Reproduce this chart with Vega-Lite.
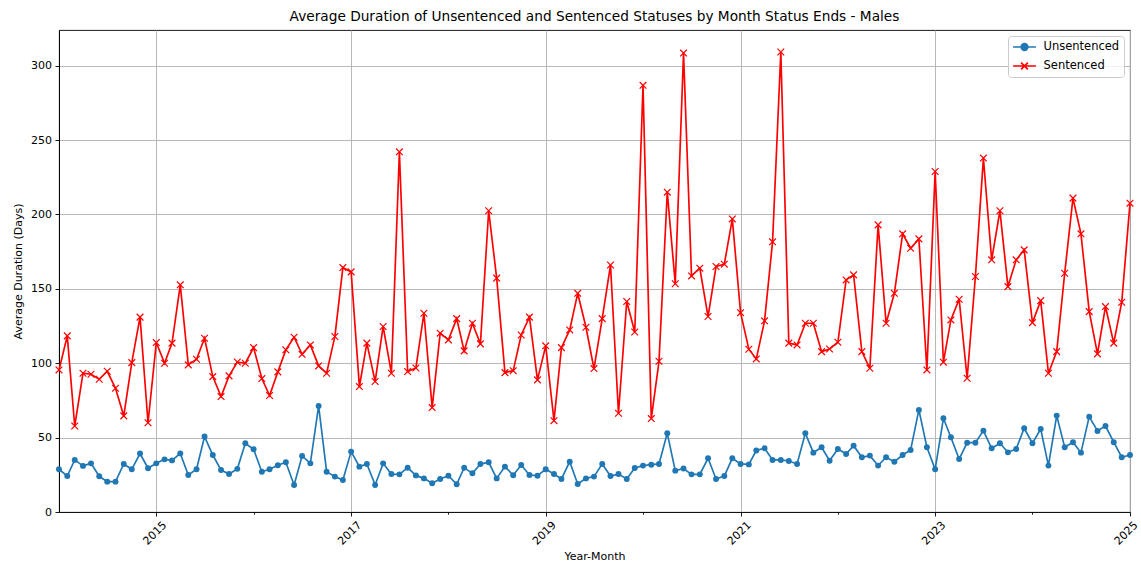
{
  "$schema": "https://vega.github.io/schema/vega-lite/v6.json",
  "width": 1071,
  "height": 482,
  "autosize": {"type": "none"},
  "padding": {"left": 59, "top": 30, "right": 11, "bottom": 51},
  "background": "white",
  "title": {"text": "Average Duration of Unsentenced and Sentenced Statuses by Month Status Ends - Males", "fontSize": 13.7, "font": "DejaVu Sans", "fontWeight": "normal", "color": "black", "offset": 6, "anchor": "middle"},
  "data": {
    "format": {"parse": {"m": "utc:'%Y-%m'"}},
    "values": [
      {"m": "2014-01", "Unsentenced": 28.7, "Sentenced": 95.5},
      {"m": "2014-02", "Unsentenced": 24.2, "Sentenced": 118.4},
      {"m": "2014-03", "Unsentenced": 35.0, "Sentenced": 57.8},
      {"m": "2014-04", "Unsentenced": 31.0, "Sentenced": 93.3},
      {"m": "2014-05", "Unsentenced": 32.7, "Sentenced": 92.6},
      {"m": "2014-06", "Unsentenced": 24.0, "Sentenced": 89.2},
      {"m": "2014-07", "Unsentenced": 20.4, "Sentenced": 94.6},
      {"m": "2014-08", "Unsentenced": 20.4, "Sentenced": 83.2},
      {"m": "2014-09", "Unsentenced": 32.3, "Sentenced": 64.6},
      {"m": "2014-10", "Unsentenced": 28.7, "Sentenced": 100.4},
      {"m": "2014-11", "Unsentenced": 39.3, "Sentenced": 131.0},
      {"m": "2014-12", "Unsentenced": 29.4, "Sentenced": 60.0},
      {"m": "2015-01", "Unsentenced": 32.7, "Sentenced": 113.9},
      {"m": "2015-02", "Unsentenced": 35.4, "Sentenced": 100.0},
      {"m": "2015-03", "Unsentenced": 34.7, "Sentenced": 113.5},
      {"m": "2015-04", "Unsentenced": 39.4, "Sentenced": 152.7},
      {"m": "2015-05", "Unsentenced": 24.9, "Sentenced": 98.9},
      {"m": "2015-06", "Unsentenced": 28.7, "Sentenced": 102.7},
      {"m": "2015-07", "Unsentenced": 50.7, "Sentenced": 116.8},
      {"m": "2015-08", "Unsentenced": 38.3, "Sentenced": 91.0},
      {"m": "2015-09", "Unsentenced": 28.2, "Sentenced": 77.6},
      {"m": "2015-10", "Unsentenced": 25.5, "Sentenced": 91.5},
      {"m": "2015-11", "Unsentenced": 29.0, "Sentenced": 100.8},
      {"m": "2015-12", "Unsentenced": 46.2, "Sentenced": 100.0},
      {"m": "2016-01", "Unsentenced": 42.2, "Sentenced": 110.5},
      {"m": "2016-02", "Unsentenced": 27.1, "Sentenced": 89.7},
      {"m": "2016-03", "Unsentenced": 28.7, "Sentenced": 78.3},
      {"m": "2016-04", "Unsentenced": 31.4, "Sentenced": 94.2},
      {"m": "2016-05", "Unsentenced": 33.4, "Sentenced": 109.0},
      {"m": "2016-06", "Unsentenced": 18.2, "Sentenced": 117.5},
      {"m": "2016-07", "Unsentenced": 37.7, "Sentenced": 106.0},
      {"m": "2016-08", "Unsentenced": 32.7, "Sentenced": 112.3},
      {"m": "2016-09", "Unsentenced": 71.3, "Sentenced": 98.2},
      {"m": "2016-10", "Unsentenced": 27.1, "Sentenced": 93.3},
      {"m": "2016-11", "Unsentenced": 23.8, "Sentenced": 118.0},
      {"m": "2016-12", "Unsentenced": 21.5, "Sentenced": 164.3},
      {"m": "2017-01", "Unsentenced": 40.6, "Sentenced": 161.4},
      {"m": "2017-02", "Unsentenced": 30.5, "Sentenced": 84.3},
      {"m": "2017-03", "Unsentenced": 32.3, "Sentenced": 113.5},
      {"m": "2017-04", "Unsentenced": 18.2, "Sentenced": 87.7},
      {"m": "2017-05", "Unsentenced": 32.7, "Sentenced": 124.7},
      {"m": "2017-06", "Unsentenced": 25.5, "Sentenced": 93.3},
      {"m": "2017-07", "Unsentenced": 25.3, "Sentenced": 242.1},
      {"m": "2017-08", "Unsentenced": 29.8, "Sentenced": 94.4},
      {"m": "2017-09", "Unsentenced": 24.6, "Sentenced": 96.8},
      {"m": "2017-10", "Unsentenced": 22.6, "Sentenced": 133.6},
      {"m": "2017-11", "Unsentenced": 19.3, "Sentenced": 70.2},
      {"m": "2017-12", "Unsentenced": 22.2, "Sentenced": 120.2},
      {"m": "2018-01", "Unsentenced": 24.4, "Sentenced": 115.7},
      {"m": "2018-02", "Unsentenced": 18.6, "Sentenced": 130.0},
      {"m": "2018-03", "Unsentenced": 29.8, "Sentenced": 108.3},
      {"m": "2018-04", "Unsentenced": 26.0, "Sentenced": 126.9},
      {"m": "2018-05", "Unsentenced": 32.3, "Sentenced": 113.0},
      {"m": "2018-06", "Unsentenced": 33.4, "Sentenced": 202.5},
      {"m": "2018-07", "Unsentenced": 22.6, "Sentenced": 157.2},
      {"m": "2018-08", "Unsentenced": 30.5, "Sentenced": 93.7},
      {"m": "2018-09", "Unsentenced": 24.7, "Sentenced": 95.0},
      {"m": "2018-10", "Unsentenced": 31.6, "Sentenced": 119.0},
      {"m": "2018-11", "Unsentenced": 24.9, "Sentenced": 131.0},
      {"m": "2018-12", "Unsentenced": 24.4, "Sentenced": 88.8},
      {"m": "2019-01", "Unsentenced": 28.7, "Sentenced": 111.7},
      {"m": "2019-02", "Unsentenced": 25.5, "Sentenced": 61.4},
      {"m": "2019-03", "Unsentenced": 22.2, "Sentenced": 110.5},
      {"m": "2019-04", "Unsentenced": 33.8, "Sentenced": 122.4},
      {"m": "2019-05", "Unsentenced": 18.8, "Sentenced": 147.0},
      {"m": "2019-06", "Unsentenced": 22.6, "Sentenced": 124.2},
      {"m": "2019-07", "Unsentenced": 23.8, "Sentenced": 96.4},
      {"m": "2019-08", "Unsentenced": 32.3, "Sentenced": 130.0},
      {"m": "2019-09", "Unsentenced": 24.2, "Sentenced": 166.0},
      {"m": "2019-10", "Unsentenced": 25.5, "Sentenced": 66.4},
      {"m": "2019-11", "Unsentenced": 22.2, "Sentenced": 141.5},
      {"m": "2019-12", "Unsentenced": 29.6, "Sentenced": 121.0},
      {"m": "2020-01", "Unsentenced": 31.2, "Sentenced": 286.8},
      {"m": "2020-02", "Unsentenced": 31.8, "Sentenced": 62.8},
      {"m": "2020-03", "Unsentenced": 32.3, "Sentenced": 101.3},
      {"m": "2020-04", "Unsentenced": 52.9, "Sentenced": 215.0},
      {"m": "2020-05", "Unsentenced": 27.8, "Sentenced": 153.4},
      {"m": "2020-06", "Unsentenced": 29.2, "Sentenced": 308.5},
      {"m": "2020-07", "Unsentenced": 25.3, "Sentenced": 158.7},
      {"m": "2020-08", "Unsentenced": 25.3, "Sentenced": 163.9},
      {"m": "2020-09", "Unsentenced": 36.1, "Sentenced": 131.4},
      {"m": "2020-10", "Unsentenced": 22.2, "Sentenced": 165.0},
      {"m": "2020-11", "Unsentenced": 24.2, "Sentenced": 166.6},
      {"m": "2020-12", "Unsentenced": 36.1, "Sentenced": 197.0},
      {"m": "2021-01", "Unsentenced": 32.3, "Sentenced": 134.0},
      {"m": "2021-02", "Unsentenced": 32.0, "Sentenced": 109.4},
      {"m": "2021-03", "Unsentenced": 41.3, "Sentenced": 102.9},
      {"m": "2021-04", "Unsentenced": 42.8, "Sentenced": 128.5},
      {"m": "2021-05", "Unsentenced": 35.0, "Sentenced": 181.6},
      {"m": "2021-06", "Unsentenced": 35.0, "Sentenced": 309.2},
      {"m": "2021-07", "Unsentenced": 34.3, "Sentenced": 113.5},
      {"m": "2021-08", "Unsentenced": 32.3, "Sentenced": 112.3},
      {"m": "2021-09", "Unsentenced": 52.9, "Sentenced": 126.9},
      {"m": "2021-10", "Unsentenced": 39.9, "Sentenced": 126.9},
      {"m": "2021-11", "Unsentenced": 43.5, "Sentenced": 107.8},
      {"m": "2021-12", "Unsentenced": 34.5, "Sentenced": 109.6},
      {"m": "2022-01", "Unsentenced": 42.4, "Sentenced": 114.1},
      {"m": "2022-02", "Unsentenced": 39.0, "Sentenced": 156.0},
      {"m": "2022-03", "Unsentenced": 44.6, "Sentenced": 159.4},
      {"m": "2022-04", "Unsentenced": 36.8, "Sentenced": 107.8},
      {"m": "2022-05", "Unsentenced": 37.9, "Sentenced": 96.6},
      {"m": "2022-06", "Unsentenced": 31.2, "Sentenced": 193.0},
      {"m": "2022-07", "Unsentenced": 36.8, "Sentenced": 126.9},
      {"m": "2022-08", "Unsentenced": 33.8, "Sentenced": 147.0},
      {"m": "2022-09", "Unsentenced": 38.3, "Sentenced": 187.0},
      {"m": "2022-10", "Unsentenced": 41.7, "Sentenced": 177.3},
      {"m": "2022-11", "Unsentenced": 68.6, "Sentenced": 183.6},
      {"m": "2022-12", "Unsentenced": 43.5, "Sentenced": 95.5},
      {"m": "2023-01", "Unsentenced": 28.7, "Sentenced": 228.9},
      {"m": "2023-02", "Unsentenced": 63.0, "Sentenced": 100.7},
      {"m": "2023-03", "Unsentenced": 50.2, "Sentenced": 129.1},
      {"m": "2023-04", "Unsentenced": 35.6, "Sentenced": 143.0},
      {"m": "2023-05", "Unsentenced": 46.6, "Sentenced": 89.9},
      {"m": "2023-06", "Unsentenced": 46.6, "Sentenced": 158.3},
      {"m": "2023-07", "Unsentenced": 54.7, "Sentenced": 237.9},
      {"m": "2023-08", "Unsentenced": 42.8, "Sentenced": 169.5},
      {"m": "2023-09", "Unsentenced": 46.2, "Sentenced": 202.5},
      {"m": "2023-10", "Unsentenced": 40.1, "Sentenced": 151.5},
      {"m": "2023-11", "Unsentenced": 42.4, "Sentenced": 169.5},
      {"m": "2023-12", "Unsentenced": 56.3, "Sentenced": 176.2},
      {"m": "2024-01", "Unsentenced": 46.2, "Sentenced": 127.3},
      {"m": "2024-02", "Unsentenced": 55.8, "Sentenced": 142.1},
      {"m": "2024-03", "Unsentenced": 31.2, "Sentenced": 93.3},
      {"m": "2024-04", "Unsentenced": 64.8, "Sentenced": 107.8},
      {"m": "2024-05", "Unsentenced": 43.5, "Sentenced": 160.5},
      {"m": "2024-06", "Unsentenced": 46.9, "Sentenced": 211.0},
      {"m": "2024-07", "Unsentenced": 39.9, "Sentenced": 187.0},
      {"m": "2024-08", "Unsentenced": 64.1, "Sentenced": 134.7},
      {"m": "2024-09", "Unsentenced": 54.5, "Sentenced": 106.3},
      {"m": "2024-10", "Unsentenced": 57.8, "Sentenced": 138.1},
      {"m": "2024-11", "Unsentenced": 46.9, "Sentenced": 113.5},
      {"m": "2024-12", "Unsentenced": 36.8, "Sentenced": 141.0},
      {"m": "2025-01", "Unsentenced": 38.3, "Sentenced": 207.6}
    ]
  },
  "transform": [{"fold": ["Unsentenced", "Sentenced"], "as": ["series", "value"]}],
  "encoding": {
    "x": {
      "field": "m",
      "type": "temporal",
      "scale": {"type": "utc", "domain": [{"year": 2014, "month": 1, "date": 1, "utc": true}, {"year": 2025, "month": 1, "date": 1, "utc": true}]},
      "axis": {
        "title": "Year-Month",
        "values": [
          {"year": 2015, "month": 1, "date": 1, "utc": true},
          {"year": 2016, "month": 1, "date": 1, "utc": true},
          {"year": 2017, "month": 1, "date": 1, "utc": true},
          {"year": 2018, "month": 1, "date": 1, "utc": true},
          {"year": 2019, "month": 1, "date": 1, "utc": true},
          {"year": 2020, "month": 1, "date": 1, "utc": true},
          {"year": 2021, "month": 1, "date": 1, "utc": true},
          {"year": 2022, "month": 1, "date": 1, "utc": true},
          {"year": 2023, "month": 1, "date": 1, "utc": true},
          {"year": 2024, "month": 1, "date": 1, "utc": true},
          {"year": 2025, "month": 1, "date": 1, "utc": true}
        ],
        "labelExpr": "utcyear(datum.value) % 2 == 1 ? utcFormat(datum.value, '%Y') : ''",
        "labelAngle": -45,
        "labelAlign": "center",
        "labelBaseline": "middle",
        "labelPadding": 17,
        "labelOffset": {"condition": {"test": "utcyear(datum.value) == 2025", "value": -4}, "value": -1.5},
        "labelOverlap": false,
        "labelFlush": false,
        "tickSize": {"condition": {"test": "utcyear(datum.value) % 2 == 1", "value": 4}, "value": 2.2},
        "gridColor": {"condition": {"test": "utcyear(datum.value) % 2 == 1", "value": "#b0b0b0"}, "value": "transparent"},
        "titlePadding": 4
      }
    },
    "y": {
      "field": "value",
      "type": "quantitative",
      "scale": {"domain": [0, 324], "nice": false, "zero": true},
      "axis": {"title": "Average Duration (Days)", "values": [0, 50, 100, 150, 200, 250, 300], "tickSize": 4, "labelPadding": 3.5, "titlePadding": 7}
    },
    "color": {
      "field": "series",
      "type": "nominal",
      "scale": {"domain": ["Unsentenced", "Sentenced"], "range": ["#1f77b4", "#ff0000"]},
      "legend": {
        "title": null,
        "orient": "top-right",
        "offset": 6,
        "fillColor": "rgba(255,255,255,0.8)",
        "strokeColor": "#cccccc",
        "cornerRadius": 3,
        "padding": 4,
        "labelFont": "DejaVu Sans",
        "labelFontSize": 11.5,
        "labelColor": "black",
        "symbolSize": 144,
        "symbolOffset": 5.5,
        "rowPadding": 5,
        "labelOffset": 12,
        "encode": {
          "symbols": {
            "update": {
              "shape": {"signal": "datum.value == 'Sentenced' ? 'M-1.9,0H1.9M-0.56,-0.56L0.56,0.56M0.56,-0.56L-0.56,0.56' : 'M-1.9,0H1.9M0.55,0A0.55,0.55 0 1,1 -0.55,0A0.55,0.55 0 1,1 0.55,0Z'"},
              "fill": {"signal": "datum.value == 'Sentenced' ? 'transparent' : '#1f77b4'"},
              "stroke": {"signal": "scale('color', datum.value)"},
              "strokeWidth": {"value": 1.67},
              "opacity": {"value": 1}
            }
          }
        }
      }
    }
  },
  "layer": [
    {"mark": {"type": "line", "strokeWidth": 1.67}},
    {"transform": [{"filter": "datum.series == 'Unsentenced'"}], "mark": {"type": "point", "shape": "circle", "filled": true, "size": 35, "opacity": 1}},
    {"transform": [{"filter": "datum.series == 'Sentenced'"}], "mark": {"type": "point", "shape": "M-1,-1L1,1M1,-1L-1,1", "filled": false, "size": 45, "strokeWidth": 1.2, "opacity": 1}}
  ],
  "config": {
    "font": "DejaVu Sans",
    "view": {"stroke": "black", "strokeWidth": 0.9},
    "axis": {
      "domainColor": "black",
      "domainWidth": 0.9,
      "tickColor": "black",
      "tickWidth": 0.9,
      "labelFont": "DejaVu Sans",
      "labelFontSize": 11,
      "labelColor": "black",
      "titleFont": "DejaVu Sans",
      "titleFontSize": 11,
      "titleFontWeight": "normal",
      "titleColor": "black",
      "gridColor": "#b0b0b0",
      "gridWidth": 0.9
    }
  }
}
